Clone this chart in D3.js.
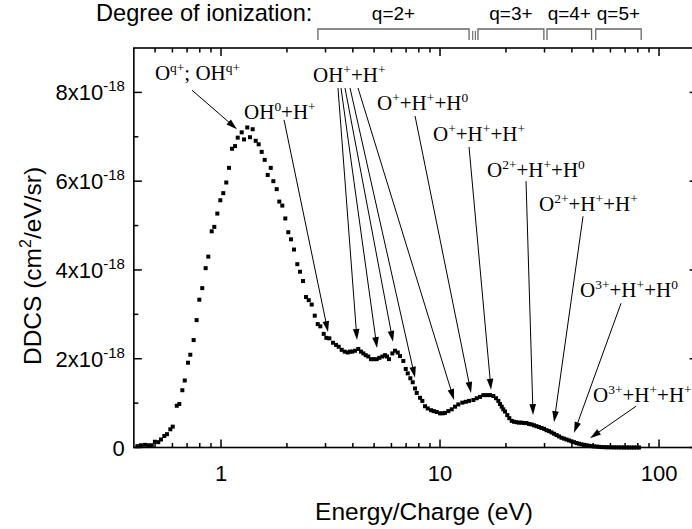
<!DOCTYPE html>
<html><head><meta charset="utf-8">
<script src="https://cdn.jsdelivr.net/npm/d3@7"></script>
<style>
html,body{margin:0;padding:0;background:#fff;}
svg{display:block;}
</style></head>
<body><svg id="chart" width="692" height="529"></svg>
<script>
// ---- data (energy in eV, DDCS in units of 1e-18 cm^2/eV/sr) ----
const energy = [
0.415,0.431,0.450,0.466,0.483,0.499,0.517,0.532,0.551,0.567,0.587,0.602,0.628,0.645,0.666,0.683,0.707,0.724,0.750,0.774,
0.796,0.821,0.851,0.875,0.907,0.932,0.962,0.993,1.024,1.057,1.088,1.123,1.159,1.192,1.243,1.274,1.318,1.356,1.395,1.440,
1.486,1.534,1.583,1.634,1.687,1.734,1.796,1.846,1.905,1.966,2.029,2.087,2.154,2.231,2.295,2.368,2.444,2.515,2.595,2.679,
2.765,2.841,2.944,3.026,3.123,3.247,3.351,3.447,3.557,3.671,3.789,3.882,3.977,4.092,4.236,4.358,4.465,4.578,4.705,4.841,
4.981,5.140,5.283,5.452,5.610,5.728,5.850,6.057,6.231,6.410,6.568,6.800,6.974,7.122,7.319,7.505,7.689,7.828,8.104,8.302,
8.541,8.787,9.098,9.359,9.658,10.00,10.29,10.54,10.91,11.31,11.71,12.12,12.64,13.11,13.57,14.20,14.71,15.23,15.77,16.34,
16.92,17.52,18.02,18.46,18.79,19.13,19.45,19.81,20.29,20.72,21.26,21.77,22.35,22.94,23.56,24.19,24.83,25.49,26.17,26.87,
27.58,28.32,29.07,29.85,30.64,31.46,32.29,33.16,34.04,34.94,35.87,36.83,37.81,38.82,39.85,40.92,42.01,43.13,44.27,45.45,
46.67,47.91,49.18,50.49,51.84,53.22,54.64,56.09,57.59,59.12,60.69,62.31,63.97,65.68,67.43,69.22,71.06,72.95,74.89,76.89,
78.93,81.04];
const ddcs = [
0.03,0.05,0.06,0.05,0.05,0.13,0.12,0.18,0.26,0.30,0.41,0.47,0.94,0.98,1.29,1.51,1.91,2.09,2.42,2.87,
3.33,3.59,4.04,4.30,4.87,4.97,5.27,5.57,5.73,5.97,6.30,6.73,6.79,6.98,7.10,6.94,7.21,6.99,7.17,6.91,
6.83,6.66,6.48,6.14,6.30,6.00,5.82,5.54,5.45,5.16,4.85,4.69,4.46,4.13,3.96,3.75,3.39,3.32,3.22,2.97,
2.78,2.73,2.56,2.47,2.46,2.36,2.31,2.27,2.20,2.16,2.14,2.16,2.16,2.18,2.22,2.16,2.12,2.08,2.05,1.99,
1.99,1.99,2.02,2.05,2.08,2.05,1.99,2.12,2.18,2.14,2.06,1.95,1.77,1.67,1.56,1.47,1.33,1.23,1.12,1.05,
0.93,0.88,0.84,0.82,0.80,0.77,0.77,0.78,0.82,0.86,0.92,0.97,1.01,1.03,1.05,1.07,1.11,1.14,1.18,1.18,
1.18,1.16,1.11,1.05,0.98,0.92,0.86,0.81,0.73,0.66,0.60,0.58,0.57,0.56,0.56,0.55,0.55,0.53,0.52,0.50,
0.48,0.46,0.44,0.42,0.39,0.37,0.34,0.31,0.28,0.25,0.22,0.20,0.18,0.16,0.14,0.12,0.10,0.085,0.07,0.06,
0.05,0.04,0.03,0.025,0.02,0.015,0.01,0.008,0.006,0.005,0.004,0.003,0.002,0.002,0.001,0.001,0.001,0,0,0,
0,0];

const xTickLabels = ["1","10","100"];
const yTickValues = [0,2,4,6,8];
const yExponent = "-18";

// annotations: label, text anchor (E,V), arrow starts and tips (E,V)
const annLabels = ["O^{q+}; OH^{q+}","OH^{0}+H^{+}","OH^{+}+H^{+}","O^{+}+H^{+}+H^{0}","O^{+}+H^{+}+H^{+}",
                   "O^{2+}+H^{+}+H^{0}","O^{2+}+H^{+}+H^{+}","O^{3+}+H^{+}+H^{0}","O^{3+}+H^{+}+H^{+}"];
const annTextE = [0.499,1.274,2.631,5.157,9.291,16.39,28.32,43.59,49.95];
const annTextV = [8.28,7.40,8.23,7.60,6.90,6.09,5.33,3.39,1.02];
const arrowStartE = [0.737,1.940,3.421,3.531,3.683,3.882,4.222,7.689,13.57,24.70,44.98,67.08,78.52];
const arrowStartV = [8.05,7.38,8.10,8.10,8.10,8.10,8.10,7.47,6.77,6.00,5.21,3.25,0.93];
const arrowTipE   = [1.183,3.081,4.178,5.157,6.101,7.689,11.59,13.86,17.10,26.59,33.16,40.92,48.41];
const arrowTipV   = [7.17,2.60,2.42,2.24,2.38,1.57,1.07,1.23,1.30,0.73,0.57,0.33,0.21];

// degree of ionization brackets (energy ranges)
const qLabels = ["q=2+","q=3+","q=4+","q=5+"];
const qFrom = [2.77,14.9,30.8,51.4];
const qTo   = [13.57,29.8,49.2,82.9];
const qSeparators = [14.1,14.5];   // short double mark between q=2+ and q=3+

// ---- layout ----
const svg = d3.select("#chart");
const L = 133.85, R = 697.6, T = 48, B = 447.5;
const x = d3.scaleLog().domain([0.4,150]).range([L,R]);
const y = d3.scaleLinear().domain([0,9]).range([B,T]);
const sans = "'Liberation Sans', Arial, sans-serif";
const serif = "'Liberation Serif', 'Times New Roman', serif";

const g = svg.append("g");
const majorX = [1,10,100];
const minorX = [];
[0.1,1,10,100].forEach(d=>{for(let k=2;k<=9;k++){const v=d*k; if(v>0.4&&v<150&&!majorX.includes(v)) minorX.push(v);}});

function xTicks(sel, y0, dir){
  sel.selectAll(null).data(majorX).enter().append("line")
    .attr("x1",d=>x(d)).attr("x2",d=>x(d)).attr("y1",y0).attr("y2",y0+dir*8)
    .attr("stroke","#000").attr("stroke-width",1.5);
  sel.selectAll(null).data(minorX).enter().append("line")
    .attr("x1",d=>x(d)).attr("x2",d=>x(d)).attr("y1",y0).attr("y2",y0+dir*4.5)
    .attr("stroke","#000").attr("stroke-width",1.5);
}
function yTicks(sel, x0, dir){
  sel.selectAll(null).data(yTickValues).enter().append("line")
    .attr("y1",d=>y(d)).attr("y2",d=>y(d)).attr("x1",x0).attr("x2",x0+dir*8)
    .attr("stroke","#000").attr("stroke-width",1.5);
  sel.selectAll(null).data([1,3,5,7]).enter().append("line")
    .attr("y1",d=>y(d)).attr("y2",d=>y(d)).attr("x1",x0).attr("x2",x0+dir*4.5)
    .attr("stroke","#000").attr("stroke-width",1.5);
}
xTicks(g, B, -1); xTicks(g, T, 1);
yTicks(g, L, 1); yTicks(g, R, -1);
g.append("rect").attr("x",L).attr("y",T).attr("width",R-L).attr("height",B-T)
  .attr("fill","none").attr("stroke","#000").attr("stroke-width",1.6);

// x tick labels
g.selectAll(null).data(majorX).enter().append("text")
  .attr("x",d=>x(d)).attr("y",B+33).attr("text-anchor","middle")
  .attr("font-family",sans).attr("font-size",22).text((d,i)=>xTickLabels[i]);

// y tick labels
yTickValues.forEach(v=>{
  const t = g.append("text").attr("x",L-9).attr("y",y(v)+8).attr("text-anchor","end")
    .attr("font-family",sans).attr("font-size",22);
  if(v===0){ t.text("0"); }
  else {
    t.append("tspan").text(v+"x10");
    t.append("tspan").attr("font-size",15).attr("dy",-9).text(yExponent);
  }
});

// axis titles
g.append("text").attr("x",424).attr("y",520).attr("text-anchor","middle")
  .attr("font-family",sans).attr("font-size",24.5).text("Energy/Charge (eV)");
const yt = g.append("text").attr("transform","translate(41,266) rotate(-90)")
  .attr("text-anchor","middle").attr("font-family",sans).attr("font-size",24.5);
yt.append("tspan").text("DDCS (cm");
yt.append("tspan").attr("font-size",16).attr("dy",-10).text("2");
yt.append("tspan").attr("dy",10).text("/eV/sr)");

// data points
g.selectAll(null).data(energy.map((e,i)=>[e,ddcs[i]])).enter().append("rect")
  .attr("x",d=>x(d[0])-2).attr("y",d=>y(d[1])-2).attr("width",4).attr("height",4).attr("fill","#000");

// annotations text
function richText(sel, str, fs){
  const re = /\^\{([^}]*)\}|([^\^]+)/g; let m; let raised=false;
  while((m=re.exec(str))){
    if(m[1]!==undefined){
      sel.append("tspan").attr("font-size",fs*0.64).attr("dy",raised?0:-fs*0.38).text(m[1]); raised=true;
    } else {
      sel.append("tspan").attr("font-size",fs).attr("dy",raised?fs*0.38:0).text(m[2]); raised=false;
    }
  }
}
annLabels.forEach((lab,i)=>{
  const t = g.append("text").attr("x",x(annTextE[i])).attr("y",y(annTextV[i]))
    .attr("font-family",serif).attr("font-size",21);
  richText(t, lab, 21);
});
// arrows
arrowStartE.forEach((e,i)=>{
  const x0=x(e), y0=y(arrowStartV[i]), x1=x(arrowTipE[i]), y1=y(arrowTipV[i]);
  const dx=x1-x0, dy=y1-y0, len=Math.hypot(dx,dy), ux=dx/len, uy=dy/len;
  const hl=11, hw=3.3;
  const bx=x1-ux*hl, by=y1-uy*hl;
  g.append("line").attr("x1",x0).attr("y1",y0).attr("x2",bx+ux*2).attr("y2",by+uy*2)
    .attr("stroke","#000").attr("stroke-width",1);
  g.append("path").attr("d",`M${x1},${y1}L${bx-uy*hw},${by+ux*hw}L${bx+uy*hw},${by-ux*hw}Z`).attr("fill","#000");
});

// degree of ionization
g.append("text").attr("x",96).attr("y",21).attr("font-family",sans).attr("font-size",23.6)
  .text("Degree of ionization:");
qLabels.forEach((q,i)=>{
  const x1=x(qFrom[i]), x2=x(qTo[i]);
  g.append("path").attr("d",`M${x1},40V29H${x2}V40`).attr("fill","none")
    .attr("stroke","#666").attr("stroke-width",1.3);
  g.append("text").attr("x",(x1+x2)/2).attr("y",20).attr("text-anchor","middle")
    .attr("font-family",sans).attr("font-size",19).text(q);
});
g.selectAll(null).data(qSeparators).enter().append("line")
  .attr("x1",d=>x(d)).attr("x2",d=>x(d)).attr("y1",31).attr("y2",40)
  .attr("stroke","#666").attr("stroke-width",1.1);
</script></body></html>
